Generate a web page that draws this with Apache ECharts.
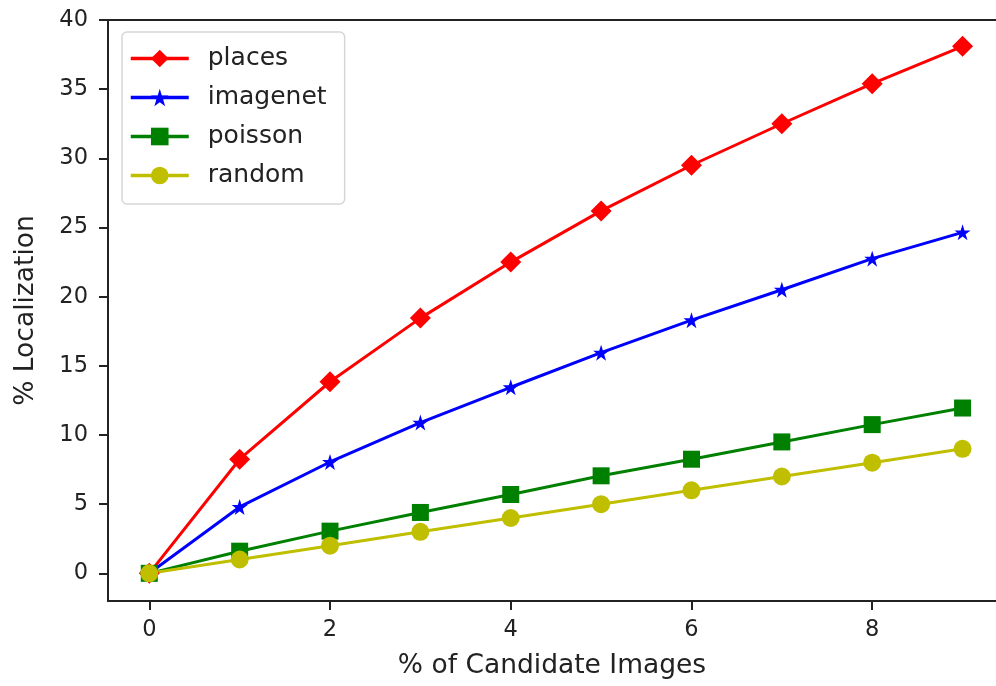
<!DOCTYPE html>
<html>
<head>
<meta charset="utf-8">
<script src="https://cdn.jsdelivr.net/npm/echarts@6/dist/echarts.min.js"></script>
<style>html,body{margin:0;padding:0;background:#fff;}#c{width:996px;height:686px;}</style>
</head>
<body>
<div id="c"></div>
<script>
const xValues = [0, 1, 2, 3, 4, 5, 6, 7, 8, 9];
const places = [0, 8.25, 13.85, 18.45, 22.5, 26.2, 29.5, 32.5, 35.4, 38.1];
const imagenet = [0, 4.8, 8.05, 10.9, 13.45, 15.95, 18.3, 20.5, 22.75, 24.65];
const poisson = [0, 1.6, 3.05, 4.4, 5.7, 7.05, 8.25, 9.5, 10.75, 11.95];
const random = [0, 1.0, 2.0, 3.0, 4.0, 5.0, 6.0, 7.0, 8.0, 9.0];
const xTicks = [0, 2, 4, 6, 8];
const yTicks = [0, 5, 10, 15, 20, 25, 30, 35, 40];

const FONT = 'DejaVu Sans';
const TXT = '#222';
const STAR = 'path://M50,0 L61.8,36.2 L100,36.2 L69.1,58.6 L80.9,95 L50,72.6 L19.1,95 L30.9,58.6 L0,36.2 L38.2,36.2 Z';

function pairs(arr) { return xValues.map((x, i) => [x, arr[i]]); }

function mk(name, arr, color, symbol, size) {
  return {
    name: name, type: 'line', data: pairs(arr),
    symbol: symbol, symbolSize: size,
    lineStyle: { color: color, width: 3 },
    itemStyle: { color: color },
    emphasis: { disabled: true },
    animation: false
  };
}

const chart = echarts.init(document.getElementById('c'), null, { renderer: 'canvas' });
chart.setOption({
  animation: false,
  grid: { left: 108, right: 0, top: 20, bottom: 85, containLabel: false },
  legend: {
    orient: 'vertical', left: 122, top: 32,
    padding: [14, 18, 16, 7],
    itemWidth: 58, itemHeight: 22, itemGap: 14,
    borderColor: '#d6d6d6', borderWidth: 1.5, borderRadius: 5,
    backgroundColor: '#fff',
    lineStyle: { width: 3.5 },
    textStyle: { fontFamily: FONT, fontSize: 25, color: TXT, padding: [0, 0, 0, 14] },
    data: ['places', 'imagenet', 'poisson', 'random']
  },
  xAxis: {
    type: 'value', min: -0.457, max: 9.37,
    name: '% of Candidate Images', nameLocation: 'middle', nameGap: 52,
    nameTextStyle: { fontFamily: FONT, fontSize: 26.5, color: TXT },
    axisLine: { show: true, onZero: false, lineStyle: { color: '#222', width: 2 } },
    axisTick: { show: true, length: 9, customValues: xTicks, lineStyle: { color: '#222', width: 2 } },
    axisLabel: { customValues: xTicks, fontFamily: FONT, fontSize: 22.5, color: TXT, margin: 18 },
    splitLine: { show: false }
  },
  yAxis: {
    type: 'value', min: -2, max: 40,
    name: '% Localization', nameLocation: 'middle', nameGap: 68,
    nameTextStyle: { fontFamily: FONT, fontSize: 26.5, color: TXT },
    axisLine: { show: true, onZero: false, lineStyle: { color: '#222', width: 2 } },
    axisTick: { show: true, length: 9, customValues: yTicks, lineStyle: { color: '#222', width: 2 } },
    axisLabel: { customValues: yTicks, fontFamily: FONT, fontSize: 22.5, color: TXT, margin: 20 },
    splitLine: { show: false }
  },
  series: [
    mk('places', places, '#ff0000', 'diamond', [21, 21]),
    mk('imagenet', imagenet, '#0000ff', STAR, 16),
    mk('poisson', poisson, '#008000', 'rect', 17),
    mk('random', random, '#bfbf00', 'circle', 18)
  ]
});
chart.setOption({
  graphic: [{
    type: 'line', shape: { x1: 108, y1: 20, x2: 996, y2: 20 },
    style: { stroke: '#222', lineWidth: 2 }, z: 100
  }]
});
</script>
</body>
</html>
